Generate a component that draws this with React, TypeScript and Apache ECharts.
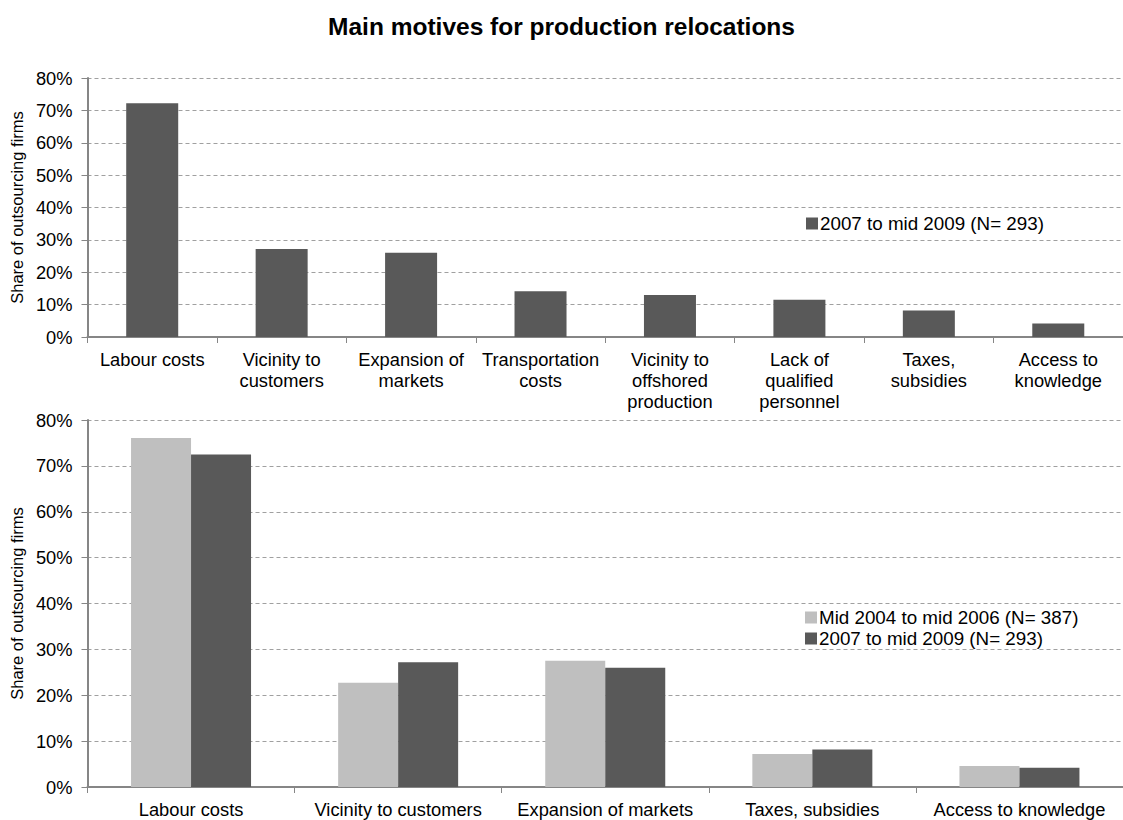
import React, { useEffect, useRef } from "react";
import * as echarts from "echarts";

const TITLE = "Main motives for production relocations";
const Y_NAME = "Share of outsourcing firms";
const SERIES_OLD = "Mid 2004 to mid 2006 (N= 387)";
const SERIES_NEW = "2007 to mid 2009 (N= 293)";

const topCategories = [
  "Labour costs",
  "Vicinity to\ncustomers",
  "Expansion of\nmarkets",
  "Transportation\ncosts",
  "Vicinity to\noffshored\nproduction",
  "Lack of\nqualified\npersonnel",
  "Taxes,\nsubsidies",
  "Access to\nknowledge",
];
const topNew = [72.2, 27.2, 26.0, 14.1, 13.0, 11.5, 8.2, 4.2];

const bottomCategories = [
  "Labour costs",
  "Vicinity to customers",
  "Expansion of markets",
  "Taxes, subsidies",
  "Access to knowledge",
];
const bottomOld = [76.1, 22.7, 27.5, 7.2, 4.6];
const bottomNew = [72.5, 27.2, 26.0, 8.2, 4.2];

const yTicks = { min: 0, max: 80, interval: 10 };

const DARK = "#595959";
const LIGHT = "#BFBFBF";
const FONT = "'Liberation Sans', Arial, sans-serif";
const LABEL_SIZE = 18.3;
const LEGEND_SIZE = 18.8;

export default function App() {
  const ref = useRef<HTMLDivElement>(null);
  useEffect(() => {
    if (!ref.current) return;
    const chart = echarts.init(ref.current, undefined, { renderer: "svg" });
    const yAxisBase = {
      type: "value",
      min: yTicks.min,
      max: yTicks.max,
      interval: yTicks.interval,
      name: Y_NAME,
      nameLocation: "middle",
      nameRotate: 90,
      nameGap: 60,
      nameTextStyle: { color: "#000", fontSize: 16.5, fontFamily: FONT },
      axisLine: { show: true, lineStyle: { color: "#868686", width: 2 } },
      axisTick: { show: true, length: 6, lineStyle: { color: "#868686" } },
      axisLabel: {
        color: "#000",
        fontSize: LABEL_SIZE,
        fontFamily: FONT,
        margin: 15,
        formatter: (v: number) => v + "%",
      },
      splitLine: {
        show: true,
        lineStyle: { color: "#a0a0a0", type: [4, 3], width: 1 },
      },
    };
    const xAxisBase = {
      type: "category",
      axisLine: { show: true, lineStyle: { color: "#868686", width: 2 } },
      axisTick: { show: true, length: 6, lineStyle: { color: "#868686" } },
      axisLabel: {
        color: "#000",
        fontSize: LABEL_SIZE,
        fontFamily: FONT,
        margin: 12,
        lineHeight: 21,
        interval: 0,
      },
    };
    const legendBase = {
      orient: "vertical",
      icon: "rect",
      itemWidth: 12,
      itemHeight: 12,
      itemGap: 2,
      padding: 0,
      textStyle: {
        color: "#000",
        fontSize: LEGEND_SIZE,
        fontFamily: FONT,
        padding: [0, 0, 0, -3],
      },
    };
    chart.setOption({
      animation: false,
      backgroundColor: "#fff",
      title: {
        text: TITLE,
        left: "center",
        top: 14,
        padding: 0,
        textStyle: {
          fontSize: 24.5,
          fontWeight: "bold",
          color: "#000",
          fontFamily: FONT,
        },
      },
      legend: [
        { ...legendBase, data: [SERIES_NEW], left: 806, top: 214 },
        { ...legendBase, data: [SERIES_OLD, SERIES_NEW], left: 805, top: 608 },
      ],
      grid: [
        { left: 87, top: 78, width: 1040, height: 259 },
        { left: 87, top: 420, width: 1045, height: 368 },
      ],
      xAxis: [
        { ...xAxisBase, gridIndex: 0, data: topCategories },
        { ...xAxisBase, gridIndex: 1, data: bottomCategories },
      ],
      yAxis: [
        { ...yAxisBase, gridIndex: 0 },
        { ...yAxisBase, gridIndex: 1 },
      ],
      series: [
        {
          name: SERIES_NEW,
          type: "bar",
          xAxisIndex: 0,
          yAxisIndex: 0,
          data: topNew,
          barWidth: 52,
          itemStyle: { color: DARK },
        },
        {
          name: SERIES_OLD,
          type: "bar",
          xAxisIndex: 1,
          yAxisIndex: 1,
          data: bottomOld,
          barWidth: 60,
          barGap: "0%",
          itemStyle: { color: LIGHT },
        },
        {
          name: SERIES_NEW,
          type: "bar",
          xAxisIndex: 1,
          yAxisIndex: 1,
          data: bottomNew,
          barWidth: 60,
          barGap: "0%",
          itemStyle: { color: DARK },
        },
      ],
    });
    return () => chart.dispose();
  }, []);
  return (
    <div
      ref={ref}
      style={{ position: "absolute", left: 0, top: 0, width: 1123, height: 820 }}
    />
  );
}
